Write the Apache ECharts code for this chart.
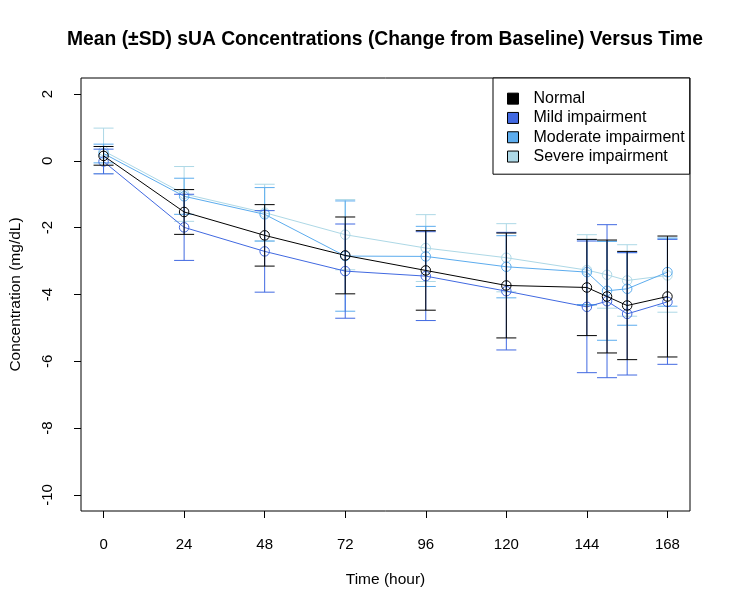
<!DOCTYPE html>
<html><head><meta charset="utf-8">
<script src="https://cdn.jsdelivr.net/npm/echarts@6/dist/echarts.min.js"></script>
<style>html,body{margin:0;padding:0;background:#fff}#c{width:731px;height:609px}</style>
</head><body><div id="c"></div>
<script>
const times = [0, 24, 48, 72, 96, 120, 144, 150, 156, 168];
const xTicks = [0, 24, 48, 72, 96, 120, 144, 168];
const yTicks = [-10, -8, -6, -4, -2, 0, 2];

const normalMean = [0.15, -1.53, -2.23, -2.83, -3.28, -3.73, -3.79, -4.06, -4.33, -4.06];
const normalSD   = [0.28, 0.67, 0.92, 1.15, 1.19, 1.57, 1.44, 1.69, 1.62, 1.81];
const mildMean   = [-0.02, -1.99, -2.71, -3.30, -3.45, -3.90, -4.37, -4.20, -4.58, -4.22];
const mildSD     = [0.37, 0.99, 1.22, 1.41, 1.33, 1.76, 1.97, 2.29, 1.83, 1.87];
const modMean    = [0.22, -1.06, -1.60, -2.85, -2.86, -3.17, -3.33, -3.89, -3.83, -3.33];
const modSD      = [0.28, 0.54, 0.80, 1.65, 0.90, 0.93, 0.97, 1.48, 1.09, 1.02];
const sevMean    = [0.30, -0.99, -1.55, -2.21, -2.61, -2.90, -3.27, -3.41, -3.58, -3.43];
const sevSD      = [0.68, 0.82, 0.85, 1.05, 1.00, 1.02, 1.06, 1.00, 1.07, 1.10];

const groups = [
  {name: 'Normal', mean: normalMean, sd: normalSD, color: '#000000', z: 8},
  {name: 'Mild impairment', mean: mildMean, sd: mildSD, color: '#4169E1', z: 6},
  {name: 'Moderate impairment', mean: modMean, sd: modSD, color: '#5CACEE', z: 4},
  {name: 'Severe impairment', mean: sevMean, sd: sevSD, color: '#ADD8E6', z: 2}
];

const FONT = '"Liberation Sans", Arial, Helvetica, sans-serif';

function errSeries(g) {
  return {
    type: 'custom', name: g.name + ' SD', z: g.z, silent: true,
    data: times.map((t, i) => [t, g.mean[i] - g.sd[i], g.mean[i] + g.sd[i]]),
    encode: {x: 0, y: [1, 2]},
    renderItem(params, api) {
      const x = api.value(0);
      const lo = api.coord([x, api.value(1)]);
      const hi = api.coord([x, api.value(2)]);
      const hw = 10;
      const st = {stroke: g.color, lineWidth: 1};
      return {type: 'group', children: [
        {type: 'line', shape: {x1: lo[0], y1: lo[1], x2: hi[0], y2: hi[1]}, style: st},
        {type: 'line', shape: {x1: lo[0] - hw, y1: lo[1], x2: lo[0] + hw, y2: lo[1]}, style: st},
        {type: 'line', shape: {x1: hi[0] - hw, y1: hi[1], x2: hi[0] + hw, y2: hi[1]}, style: st}
      ]};
    }
  };
}
function lineSeries(g) {
  return {
    type: 'line', name: g.name, z: g.z + 1,
    data: times.map((t, i) => [t, g.mean[i]]),
    symbol: 'circle', symbolSize: 9.5,
    lineStyle: {color: g.color, width: 1},
    itemStyle: {color: 'rgba(0,0,0,0)', borderColor: g.color, borderWidth: 1},
    emphasis: {disabled: true},
    animation: false
  };
}

const series = [];
groups.slice().reverse().forEach(g => { series.push(errSeries(g)); series.push(lineSeries(g)); });

const option = {
  animation: false,
  backgroundColor: '#fff',
  textStyle: {fontFamily: FONT},
  title: {
    text: 'Mean (\u00b1SD) sUA Concentrations (Change from Baseline) Versus Time',
    left: 385, top: 30, textAlign: 'center', padding: 0,
    textStyle: {fontFamily: FONT, fontSize: 19.3, fontWeight: 'bold', color: '#000'}
  },
  legend: {
    orient: 'vertical', left: 493, top: 78,
    data: groups.map(g => ({name: g.name, itemStyle: {color: g.color, borderColor: '#000', borderWidth: 1}})),
    icon: 'rect', itemWidth: 11, itemHeight: 11, itemGap: 0,
    padding: [11, 5, 8, 14],
    borderColor: '#000', borderWidth: 1, backgroundColor: '#fff',
    selectedMode: false,
    textStyle: {fontFamily: FONT, fontSize: 16, color: '#000', lineHeight: 19.3, padding: [0, 0, 0, 10]}
  },
  grid: {left: 79, right: 41, top: 78, bottom: 98, show: true, borderColor: '#000', borderWidth: 1, backgroundColor: 'transparent'},
  xAxis: {
    type: 'value', min: -6.72, max: 174.72,
    name: 'Time (hour)', nameLocation: 'middle', nameGap: 61,
    nameTextStyle: {fontFamily: FONT, fontSize: 15.5, color: '#000'},
    axisLine: {show: false, onZero: false},
    axisTick: {show: true, length: 7, lineStyle: {color: '#000'}, customValues: xTicks},
    axisLabel: {show: true, margin: 26, fontFamily: FONT, fontSize: 15, color: '#000', customValues: xTicks},
    splitLine: {show: false}
  },
  yAxis: {
    type: 'value', min: -10.48, max: 2.48,
    name: 'Concentration (mg/dL)', nameLocation: 'middle', nameGap: 57,
    nameTextStyle: {fontFamily: FONT, fontSize: 15.5, color: '#000'},
    axisLine: {show: false, onZero: false},
    axisTick: {show: true, length: 7, lineStyle: {color: '#000'}, customValues: yTicks},
    axisLabel: {show: true, margin: 26, rotate: 90, fontFamily: FONT, fontSize: 15, color: '#000', customValues: yTicks},
    splitLine: {show: false}
  },
  series: series
};
const chart = echarts.init(document.getElementById('c'));
chart.setOption(option);
</script></body></html>
